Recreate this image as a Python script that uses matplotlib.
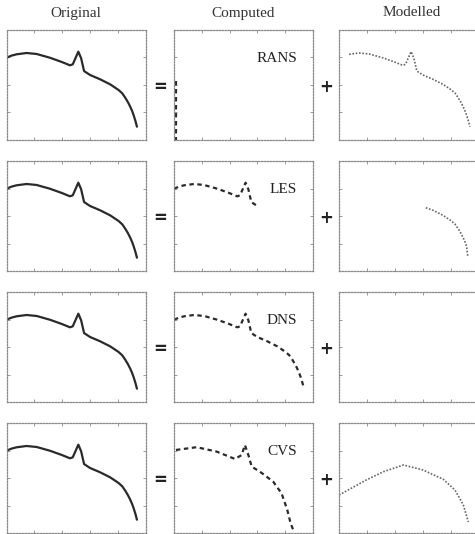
import matplotlib
matplotlib.use("Agg")
import matplotlib.pyplot as plt
import numpy as np

# ---------------- data (axes units 0..1) ----------------
col_titles = ["Original", "Computed", "Modelled"]
methods = ["RANS", "LES", "DNS", "CVS"]

orig_k = [0.0, 0.036, 0.072, 0.144, 0.216, 0.311, 0.395, 0.455, 0.475, 0.499,
          0.515, 0.535, 0.556, 0.599, 0.671, 0.743, 0.803, 0.830, 0.851, 0.870,
          0.887, 0.900, 0.911, 0.925, 0.935]
orig_E = [0.748, 0.767, 0.779, 0.791, 0.782, 0.748, 0.710, 0.679, 0.688, 0.757,
          0.803, 0.743, 0.627, 0.591, 0.552, 0.506, 0.455, 0.424, 0.385, 0.345,
          0.303, 0.265, 0.227, 0.170, 0.121]

rans_comp_k = [0.015, 0.015]
rans_comp_E = [0.54, 0.0]
rans_mod_k = orig_k[2:]
rans_mod_E = orig_E[2:]

les_comp_k = orig_k[:14]
les_comp_E = orig_E[:14]
les_mod_k = [0.62, 0.671, 0.743, 0.803, 0.830, 0.851, 0.870, 0.887, 0.900, 0.911, 0.92]
les_mod_E = [0.575, 0.552, 0.506, 0.455, 0.424, 0.385, 0.345, 0.303, 0.265, 0.227, 0.13]

dns_comp_k = orig_k
dns_comp_E = orig_E
dns_mod_k = []
dns_mod_E = []

cvs_comp_k = [0.014, 0.163, 0.307, 0.439, 0.487, 0.51, 0.535, 0.559, 0.619,
              0.714, 0.774, 0.815, 0.839, 0.858]
cvs_comp_E = [0.755, 0.78, 0.74, 0.673, 0.709, 0.80, 0.709, 0.603, 0.557,
              0.466, 0.36, 0.21, 0.088, 0.027]
cvs_mod_k = [0.0, 0.195, 0.317, 0.46, 0.6, 0.745, 0.829, 0.888, 0.924]
cvs_mod_E = [0.345, 0.482, 0.557, 0.618, 0.573, 0.488, 0.39, 0.255, 0.1]

computed = [(rans_comp_k, rans_comp_E), (les_comp_k, les_comp_E),
            (dns_comp_k, dns_comp_E), (cvs_comp_k, cvs_comp_E)]
modelled = [(rans_mod_k, rans_mod_E), (les_mod_k, les_mod_E),
            (dns_mod_k, dns_mod_E), (cvs_mod_k, cvs_mod_E)]

# ---------------- layout ----------------
W, H = 475, 534
fig = plt.figure(figsize=(W / 100, H / 100), dpi=100)
serif = ["Liberation Serif", "DejaVu Serif"]

col_left = [6.5, 174, 339]
col_w = [139.5, 139, 140]
row_top = [30, 161, 292, 423]
row_h = 110


def make_ax(c, r):
    l = col_left[c] / W
    b = 1 - (row_top[r] + row_h) / H
    ax = fig.add_axes([l, b, col_w[c] / W, row_h / H])
    ax.set_xlim(0, 1)
    ax.set_ylim(0, 1)
    for s in ax.spines.values():
        s.set_linestyle((0, (1.2, 1.2)))
        s.set_color("#8a8a8a")
        s.set_linewidth(0.9)
    ax.set_xticks(np.linspace(0, 1, 6)[1:-1])
    ax.set_yticks(np.linspace(0, 1, 5)[1:-1])
    ax.tick_params(direction="in", length=2, width=0.6, color="#8a8a8a",
                   labelleft=False, labelbottom=False, top=True, right=True)
    return ax


for r in range(4):
    ax = make_ax(0, r)
    ax.plot(orig_k, orig_E, color="#2a2a2a", lw=1.6, solid_capstyle="round",
            solid_joinstyle="round")

    ax = make_ax(1, r)
    k, E = computed[r]
    ax.plot(k, E, color="#2a2a2a", lw=1.6, linestyle=(0, (2.0, 1.6)))
    ax.text(0.885, 0.74, methods[r], transform=ax.transAxes, ha="right",
            va="center", fontsize=11, family=serif, color="#222222")

    ax = make_ax(2, r)
    k, E = modelled[r]
    if len(k):
        ax.plot(k, E, color="#666666", lw=1.2, linestyle=(0, (1, 1)))

    yc = 1 - (row_top[r] + row_h / 2 + 2) / H
    fig.text(160 / W, yc, "=", ha="center", va="center", fontsize=12,
             fontweight="bold", family="DejaVu Sans", color="#222222")
    fig.text(326 / W, yc, "+", ha="center", va="center", fontsize=12,
             fontweight="bold", family="DejaVu Sans", color="#222222")

for c, t in enumerate(col_titles):
    cx = [76, 243, 412][c]
    fig.text(cx / W, 1 - 13 / H, t, ha="center", va="center", fontsize=11,
             family=serif, color="#333333")

fig.savefig("out.png", dpi=100)
